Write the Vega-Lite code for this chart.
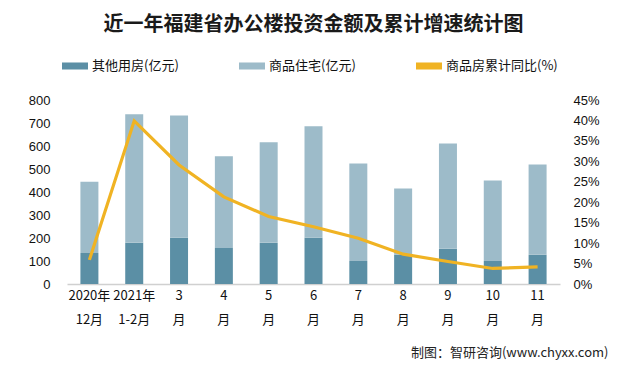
{
  "$schema": "https://vega.github.io/schema/vega-lite/v6.json",
  "width": 493,
  "height": 184,
  "autosize": {"type": "none"},
  "padding": {"left": 67, "top": 100, "right": 58, "bottom": 86},
  "background": "white",
  "title": {
    "text": "近一年福建省办公楼投资金额及累计增速统计图",
    "font": "Noto Sans CJK SC",
    "fontSize": 20,
    "fontWeight": "bold",
    "color": "#1a1a1a",
    "anchor": "middle",
    "offset": 18
  },
  "datasets": {
    "bars": [
      {"month": "2020年|12月", "series": "其他用房(亿元)", "value": 135},
      {"month": "2020年|12月", "series": "商品住宅(亿元)", "value": 310},
      {"month": "2021年|1-2月", "series": "其他用房(亿元)", "value": 180},
      {"month": "2021年|1-2月", "series": "商品住宅(亿元)", "value": 558},
      {"month": "3|月", "series": "其他用房(亿元)", "value": 201},
      {"month": "3|月", "series": "商品住宅(亿元)", "value": 532},
      {"month": "4|月", "series": "其他用房(亿元)", "value": 157},
      {"month": "4|月", "series": "商品住宅(亿元)", "value": 398},
      {"month": "5|月", "series": "其他用房(亿元)", "value": 179},
      {"month": "5|月", "series": "商品住宅(亿元)", "value": 437},
      {"month": "6|月", "series": "其他用房(亿元)", "value": 201},
      {"month": "6|月", "series": "商品住宅(亿元)", "value": 485},
      {"month": "7|月", "series": "其他用房(亿元)", "value": 100},
      {"month": "7|月", "series": "商品住宅(亿元)", "value": 424},
      {"month": "8|月", "series": "其他用房(亿元)", "value": 127},
      {"month": "8|月", "series": "商品住宅(亿元)", "value": 288},
      {"month": "9|月", "series": "其他用房(亿元)", "value": 153},
      {"month": "9|月", "series": "商品住宅(亿元)", "value": 458},
      {"month": "10|月", "series": "其他用房(亿元)", "value": 100},
      {"month": "10|月", "series": "商品住宅(亿元)", "value": 350},
      {"month": "11|月", "series": "其他用房(亿元)", "value": 127},
      {"month": "11|月", "series": "商品住宅(亿元)", "value": 393}
    ],
    "line": [
      {"month": "2020年|12月", "series": "商品房累计同比(%)", "growth": 0.059},
      {"month": "2021年|1-2月", "series": "商品房累计同比(%)", "growth": 0.399},
      {"month": "3|月", "series": "商品房累计同比(%)", "growth": 0.291},
      {"month": "4|月", "series": "商品房累计同比(%)", "growth": 0.213},
      {"month": "5|月", "series": "商品房累计同比(%)", "growth": 0.165},
      {"month": "6|月", "series": "商品房累计同比(%)", "growth": 0.14},
      {"month": "7|月", "series": "商品房累计同比(%)", "growth": 0.112},
      {"month": "8|月", "series": "商品房累计同比(%)", "growth": 0.073},
      {"month": "9|月", "series": "商品房累计同比(%)", "growth": 0.055},
      {"month": "10|月", "series": "商品房累计同比(%)", "growth": 0.038},
      {"month": "11|月", "series": "商品房累计同比(%)", "growth": 0.042}
    ]
  },
  "encoding": {
    "x": {
      "field": "month",
      "type": "nominal",
      "sort": null,
      "scale": {"paddingInner": 0, "paddingOuter": 0},
      "axis": {
        "title": "制图：智研咨询(www.chyxx.com)",
        "titleFont": "Noto Sans CJK SC",
        "titleFontSize": 13,
        "titleFontWeight": "normal",
        "titleColor": "#222",
        "titleAnchor": "end",
        "titleAlign": "right",
        "titleBaseline": "middle",
        "titleX": 541,
        "titleY": 68,
        "labelAngle": 0,
        "labelExpr": "split(datum.label, '|')",
        "labelFont": "Noto Sans CJK SC",
        "labelFontSize": 13,
        "labelColor": "#111",
        "labelLineHeight": 24,
        "labelBaseline": "top",
        "labelPadding": 5,
        "ticks": false,
        "domainColor": "#d0d0d0",
        "domainWidth": 1.5
      }
    }
  },
  "layer": [
    {
      "data": {"name": "bars"},
      "mark": {"type": "bar", "size": 18},
      "encoding": {
        "y": {
          "field": "value",
          "type": "quantitative",
          "stack": "zero",
          "scale": {"domain": [0, 800]},
          "axis": {
            "title": null,
            "values": [0, 100, 200, 300, 400, 500, 600, 700, 800],
            "grid": false,
            "domain": false,
            "ticks": false,
            "labelFont": "Liberation Sans",
            "labelFontSize": 13,
            "labelColor": "#111",
            "labelPadding": 17
          }
        },
        "color": {
          "field": "series",
          "type": "nominal",
          "scale": {
            "domain": ["其他用房(亿元)", "商品住宅(亿元)", "商品房累计同比(%)"],
            "range": ["#5b8fa5", "#9dbbc9", "#f0b323"]
          },
          "legend": {
            "title": null,
            "orient": "none",
            "legendX": -5,
            "legendY": -47,
            "direction": "horizontal",
            "columnPadding": 60,
            "labelFont": "Noto Sans CJK SC",
            "labelFontSize": 13,
            "labelColor": "#111",
            "labelOffset": 4,
            "symbolSize": 676,
            "symbolType": "M-1,-0.27H1V0.27H-1Z",
            "symbolStrokeWidth": 0,
            "encoding": {
              "symbols": {
                "update": {
                  "shape": {"signal": "datum.value === '商品房累计同比(%)' ? 'M-1,-0.11H1V0.11H-1Z' : 'M-1,-0.27H1V0.27H-1Z'"},
                  "fill": {"signal": "scale('color', datum.value)"},
                  "strokeWidth": {"value": 0},
                  "opacity": {"value": 1}
                }
              }
            }
          }
        },
        "order": {"field": "series", "sort": "ascending"}
      }
    },
    {
      "data": {"name": "line"},
      "mark": {"type": "line", "strokeWidth": 3.2},
      "encoding": {
        "y": {
          "field": "growth",
          "type": "quantitative",
          "scale": {"domain": [0, 0.45]},
          "axis": {
            "orient": "right",
            "title": null,
            "format": ".0%",
            "values": [0, 0.05, 0.1, 0.15, 0.2, 0.25, 0.3, 0.35, 0.4, 0.45],
            "grid": false,
            "domain": false,
            "ticks": false,
            "labelFont": "Liberation Sans",
            "labelFontSize": 13,
            "labelColor": "#111",
            "labelPadding": 13
          }
        },
        "color": {"field": "series", "type": "nominal"}
      }
    }
  ],
  "resolve": {"scale": {"y": "independent"}},
  "config": {"view": {"stroke": null}}
}
